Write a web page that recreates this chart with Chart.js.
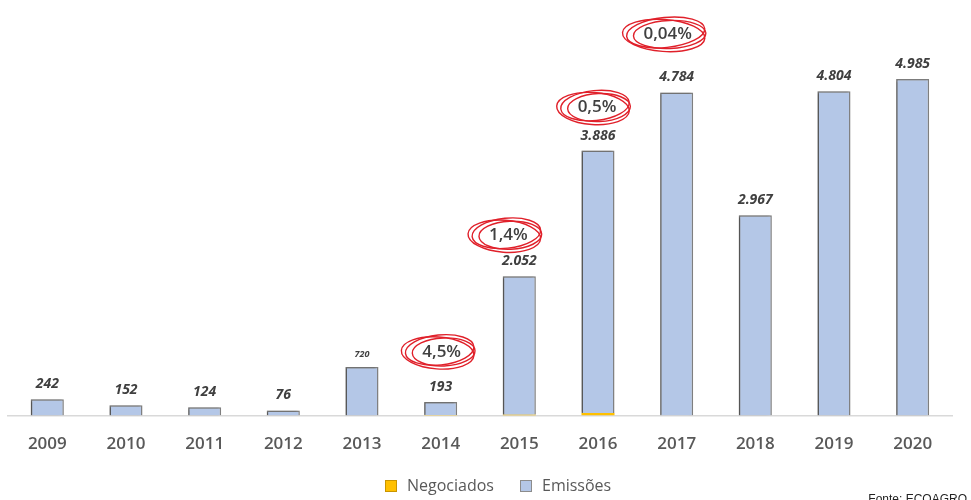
<!DOCTYPE html>
<html>
<head>
<meta charset="utf-8">
<script src="https://cdn.jsdelivr.net/npm/chart.js@4/dist/chart.umd.min.js"></script>
<style>
  html, body { margin: 0; padding: 0; background: #fff; }
  #wrap { width: 971px; height: 500px; position: relative; }
</style>
</head>
<body>
<div id="wrap"><canvas id="myChart"></canvas></div>
<script>
//! dados do grafico >>
const anos = ["2009", "2010", "2011", "2012", "2013", "2014", "2015", "2016", "2017", "2018", "2019", "2020"];
const emissoes = [242, 152, 124, 76, 720, 193, 2052, 3886, 4784, 2967, 4804, 4985];
const negociados = [0, 0, 0, 0, 0, 9, 12, 40, 2, 0, 0, 0];
const rotulos = ["242", "152", "124", "76", "720", "193", "2.052", "3.886", "4.784", "2.967", "4.804", "4.985"];
const destaques = [
  { ano: "2014", texto: "4,5%" },
  { ano: "2015", texto: "1,4%" },
  { ano: "2016", texto: "0,5%" },
  { ano: "2017", texto: "0,04%" }
];
const fonte = "Fonte: ECOAGRO";

// sombra nas barras azuis
const shadowPlugin = {
  id: 'barShadow',
  beforeDatasetDraw(chart, args) {
    if (args.index !== 1) return;
    const ctx = chart.ctx;
    ctx.save();
    ctx.shadowColor = 'rgba(0,0,0,0.35)';
    ctx.shadowOffsetX = -2;
    ctx.shadowOffsetY = 0;
    ctx.shadowBlur = 2;
  },
  afterDatasetDraw(chart, args) {
    if (args.index !== 1) return;
    chart.ctx.restore();
  }
};

// labels above bars + red circled percents + legend
const labelsPlugin = {
  id: 'barLabels',
  afterDraw(chart) {
    const ctx = chart.ctx;
    const meta = chart.getDatasetMeta(1);
    ctx.save();
    ctx.fillStyle = '#404040';
    ctx.textAlign = 'center';
    ctx.textBaseline = 'bottom';
    meta.data.forEach((bar, i) => {
      const size = i === 4 ? 9 : 14;
      ctx.font = 'italic bold ' + size + 'px "Open Sans"';
      ctx.fillText(rotulos[i], bar.x, bar.y - 8);
    });

    // deslocamento dos circulos (a mao, como no original)
    const desloc = [[1, -50], [-11, -41], [-1, -43], [-9, -58]];
    destaques.forEach((d, k) => {
      const i = anos.indexOf(d.ano);
      const bar = meta.data[i];
      const cx = bar.x + desloc[k][0];
      const cy = bar.y + desloc[k][1];
      ctx.font = '600 17px "Open Sans"';
      ctx.textBaseline = 'middle';
      ctx.fillStyle = '#404040';
      ctx.fillText(d.texto, cx, cy);
      const w = ctx.measureText(d.texto).width / 2 + 12;
      ctx.strokeStyle = '#e0202a';
      ctx.lineWidth = 1.4;
      const rings = [[2, 0, w, 14, -0.04], [-4, 1, w + 5, 16, 0.07], [-2, -2, w + 3, 15, -0.1]];
      rings.forEach(r => {
        ctx.beginPath();
        ctx.ellipse(cx + r[0], cy + r[1], r[2], r[3], r[4], 0, Math.PI * 2);
        ctx.stroke();
      });
    });

    // legenda
    const legX = [385, 520];
    ctx.font = '16px "Open Sans"';
    ctx.textAlign = 'left';
    ctx.textBaseline = 'middle';
    chart.data.datasets.forEach((ds, k) => {
      const x = legX[k];
      const y = 486;
      ctx.fillStyle = ds.backgroundColor;
      ctx.fillRect(x, y - 6, 12, 12);
      ctx.strokeStyle = k === 0 ? '#c99500' : '#8c8c8c';
      ctx.lineWidth = 1;
      ctx.strokeRect(x + 0.5, y - 5.5, 11, 11);
      ctx.fillStyle = '#595959';
      ctx.fillText(ds.label, x + 22, y);
    });

    ctx.font = '12px "Liberation Sans"';
    ctx.fillStyle = '#222';
    ctx.textAlign = 'right';
    ctx.textBaseline = 'alphabetic';
    ctx.fillText(fonte, 967, 503);
    ctx.restore();
  }
};

new Chart("myChart", {
  type: "bar",
  data: {
    labels: anos,
    datasets: [{
      label: "Negociados",
      data: negociados,
      backgroundColor: "#ffc000",
      borderWidth: 0
    }, {
      label: "Emissões",
      data: emissoes,
      backgroundColor: "#b4c7e7",
      borderColor: "#7f7f7f",
      borderWidth: 1.5
    }]
  },
  options: {
    responsive: true,
    maintainAspectRatio: false,
    animation: false,
    layout: { padding: { left: 8, right: 19, top: 24, bottom: 28 } },
    datasets: {
      bar: { barPercentage: 0.84, categoryPercentage: 0.5 }
    },
    scales: {
      x: {
        stacked: true,
        grid: { display: false, drawTicks: false },
        border: { display: true, color: '#d9d9d9', width: 1.5 },
        ticks: {
          padding: 18,
          color: '#595959',
          font: { family: '"Open Sans"', size: 17, weight: '600' }
        }
      },
      y: {
        stacked: true,
        display: false,
        min: 0,
        max: 5800
      }
    },
    plugins: {
      legend: { display: false },
      tooltip: { enabled: false }
    }
  },
  plugins: [shadowPlugin, labelsPlugin]
});
</script>
</body>
</html>
